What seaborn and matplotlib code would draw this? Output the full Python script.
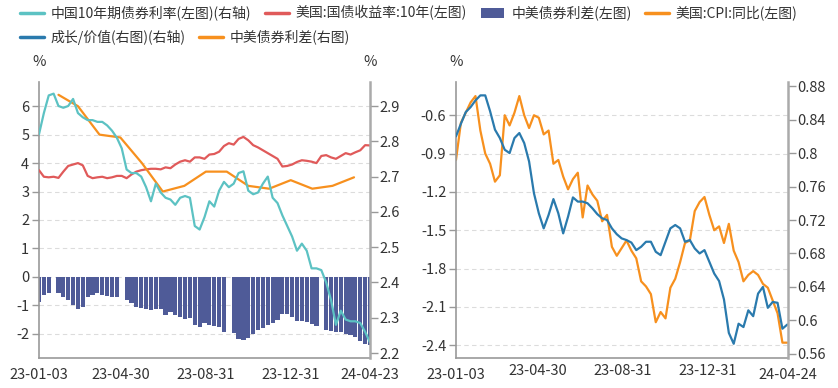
import numpy as np
import pandas as pd
import matplotlib
matplotlib.use("Agg")
import matplotlib.pyplot as plt
import matplotlib.dates as mdates
from matplotlib.lines import Line2D
from matplotlib.patches import Patch
import seaborn as sns

# weekly observations (Tuesdays) from 2023-01-03 to 2024-04-23
weeks = pd.date_range("2023-01-03", periods=69, freq="7D")

cn10y = [2.82, 2.88, 2.93, 2.935, 2.90, 2.895, 2.90, 2.92, 2.88, 2.868,
         2.86, 2.86, 2.855, 2.855, 2.845, 2.83, 2.81, 2.78, 2.72, 2.71,
         2.71, 2.70, 2.67, 2.63, 2.68, 2.655, 2.64, 2.635, 2.62, 2.64,
         2.645, 2.64, 2.56, 2.55, 2.585, 2.63, 2.615, 2.66, 2.685, 2.67,
         2.68, 2.71, 2.715, 2.66, 2.65, 2.655, 2.68, 2.70, 2.64, 2.625,
         2.59, 2.56, 2.53, 2.49, 2.51, 2.49, 2.44, 2.44, 2.435, 2.40,
         2.35, 2.28, 2.32, 2.295, 2.29, 2.29, 2.285, 2.26, 2.23]

us10y = [3.75, 3.52, 3.50, 3.52, 3.48, 3.70, 3.90, 3.95, 4.00, 3.92,
         3.55, 3.47, 3.50, 3.52, 3.47, 3.50, 3.55, 3.55, 3.47, 3.60,
         3.70, 3.75, 3.78, 3.80, 3.80, 3.78, 3.85, 3.82, 3.95, 4.05,
         4.10, 4.05, 4.20, 4.20, 4.15, 4.30, 4.32, 4.40, 4.60, 4.70,
         4.65, 4.85, 4.92, 4.80, 4.63, 4.55, 4.45, 4.35, 4.25, 4.15,
         3.88, 3.90, 3.95, 4.04, 4.10, 4.08, 4.05, 4.00, 4.25, 4.28,
         4.20, 4.15, 4.25, 4.35, 4.30, 4.38, 4.45, 4.63, 4.62]

# nan = holiday week, no bar
spread_bar = [-0.88, -0.63, -0.55, np.nan, -0.56, -0.70, -0.82, -0.98, -1.12, -1.05,
              -0.72, -0.62, -0.58, -0.62, -0.66, -0.70, -0.72, np.nan, -0.80, -0.92,
              -1.05, -1.08, -1.12, -1.17, -1.12, -1.12, -1.35, -1.22, -1.33, -1.40,
              -1.48, -1.45, -1.70, -1.75, -1.62, -1.70, -1.72, -1.76, -1.92, np.nan,
              -1.98, -2.18, -2.22, -2.15, -2.00, -1.88, -1.80, -1.68, -1.62, -1.52,
              -1.32, -1.30, -1.42, -1.55, -1.55, -1.60, -1.65, -1.72, np.nan, -1.88,
              -1.90, -1.92, -1.95, -2.00, -2.05, -2.12, -2.25, -2.35, -2.40]

cpi_dates = ["2023-01-31", "2023-02-28", "2023-03-31", "2023-04-30", "2023-05-31",
             "2023-06-30", "2023-07-31", "2023-08-31", "2023-09-30", "2023-10-31",
             "2023-11-30", "2023-12-31", "2024-01-31", "2024-02-29", "2024-03-31"]
us_cpi = [6.4, 6.0, 5.0, 4.9, 4.0, 3.0, 3.2, 3.7, 3.7, 3.2, 3.1, 3.4, 3.1, 3.2, 3.5]

spread_line = [-0.95, -0.66, -0.58, -0.50, -0.45, -0.72, -0.90, -0.98, -1.12, -1.07,
               -0.60, -0.68, -0.58, -0.45, -0.60, -0.70, -0.60, -0.62, -0.75, -0.72,
               -0.98, -0.95, -1.08, -1.18, -1.10, -1.05, -1.40, -1.15, -1.22, -1.27,
               -1.43, -1.38, -1.63, -1.70, -1.64, -1.58, -1.66, -1.72, -1.90, -1.94,
               -2.00, -2.22, -2.14, -2.19, -1.95, -1.88, -1.75, -1.60, -1.58, -1.35,
               -1.28, -1.24, -1.38, -1.50, -1.47, -1.60, -1.45, -1.66, -1.75, -1.90,
               -1.85, -1.82, -1.85, -1.92, -1.95, -2.05, -2.15, -2.38, -2.38]

growth_value = [0.820, 0.835, 0.849, 0.855, 0.863, 0.869, 0.869, 0.850, 0.828, 0.818,
                0.804, 0.800, 0.818, 0.824, 0.812, 0.790, 0.752, 0.728, 0.710, 0.726,
                0.745, 0.728, 0.704, 0.724, 0.747, 0.742, 0.742, 0.740, 0.734, 0.727,
                0.722, 0.720, 0.710, 0.703, 0.698, 0.696, 0.693, 0.684, 0.688, 0.694,
                0.694, 0.682, 0.678, 0.694, 0.710, 0.714, 0.710, 0.694, 0.696, 0.686,
                0.680, 0.684, 0.670, 0.656, 0.647, 0.625, 0.585, 0.572, 0.596, 0.592,
                0.612, 0.605, 0.632, 0.640, 0.615, 0.622, 0.621, 0.590, 0.595]

left_tick_dates = ["2023-01-03", "2023-02-28", "2023-04-30", "2023-06-30", "2023-08-31",
                   "2023-10-31", "2023-12-31", "2024-02-29", "2024-04-23"]
right_tick_dates = ["2023-01-03", "2023-02-28", "2023-04-30", "2023-06-30", "2023-08-31",
                    "2023-10-31", "2023-12-31", "2024-02-29", "2024-04-24"]

CYAN = "#5cc2c3"
RED = "#e05a5a"
NAVY = "#4f5b98"
ORANGE = "#f7901e"
BLUE = "#2a7aad"
TXT = "#333333"
SPINE = "#999999"

sns.set_style("white")
plt.rcParams["font.family"] = ["Noto Sans CJK SC", "DejaVu Sans"]
plt.rcParams["axes.unicode_minus"] = False


def to_num(dates):
    return mdates.date2num(pd.to_datetime(dates))


def style_panel(ax, axr, tick_dates, labelled_ticks, ylim, yticks, ylim_r, yticks_r, right_pct):
    tx = to_num(tick_dates)
    ax.set_xlim(tx[0], tx[-1])
    labels = [pd.Timestamp(d).strftime("%y-%m-%d") for d in tick_dates]
    if labelled_ticks:
        ax.set_xticks(tx)
        ax.set_xticklabels([lab if i % 2 == 0 else "" for i, lab in enumerate(labels)])
    else:
        major = [0, 1, 3, 5, 7, 8]
        ax.set_xticks(tx[major])
        ax.set_xticklabels([labels[i] if i in (0, 8) else "" for i in major])
        ax.set_xticks(tx[[2, 4, 6]], minor=True)
        ax.set_xticklabels([labels[i] for i in (2, 4, 6)], minor=True)
        ax.tick_params(axis="x", which="minor", length=0, labelsize=10.5,
                       labelcolor=TXT, pad=4)
    ax.tick_params(axis="x", which="major", direction="out", length=5, width=1,
                   color=SPINE, labelsize=10.5, labelcolor=TXT, pad=2)

    ax.set_ylim(*ylim)
    ax.set_yticks(yticks)
    ax.set_yticklabels([f"{v:g}" for v in yticks])
    ax.tick_params(axis="y", direction="out", length=5, width=1, color=SPINE,
                   labelsize=10.5, labelcolor=TXT, pad=2)
    axr.set_ylim(*ylim_r)
    axr.set_yticks(yticks_r)
    axr.set_yticklabels([f"{v:g}" for v in yticks_r])
    axr.tick_params(axis="y", direction="out", length=6, width=1, color=SPINE,
                    labelsize=10.5, labelcolor=TXT, pad=1)

    ax.yaxis.grid(True, linestyle=(0, (4, 3)), color="#dcdcdc", linewidth=0.8)
    ax.set_axisbelow(True)
    ax.set_xlabel("")
    ax.set_ylabel("")
    axr.set_ylabel("")

    for side in ["top", "right"]:
        ax.spines[side].set_visible(False)
    for side in ["top", "left", "bottom"]:
        axr.spines[side].set_visible(False)
    ax.spines["left"].set_color(SPINE)
    ax.spines["left"].set_linewidth(1.2)
    ax.spines["bottom"].set_color(SPINE)
    ax.spines["bottom"].set_linewidth(1.2)
    axr.spines["right"].set_color("#aaaaaa")
    axr.spines["right"].set_linewidth(1.8)

    ax.text(0, 1.072, "%", transform=ax.transAxes, ha="center", va="center",
            fontsize=10.5, color=TXT)
    if right_pct:
        ax.text(1, 1.072, "%", transform=ax.transAxes, ha="center", va="center",
                fontsize=10.5, color=TXT)


fig = plt.figure(figsize=(8.38, 3.88), dpi=100)
ax1 = fig.add_axes([39 / 838, 30 / 388, 331 / 838, 276 / 388])
ax1r = ax1.twinx()
ax2 = fig.add_axes([456 / 838, 30 / 388, 332 / 838, 276 / 388])
ax2r = ax2.twinx()

x = to_num(weeks)
bars = np.array(spread_bar)
mask = ~np.isnan(bars)

# left panel
ax1.bar(x[mask], bars[mask], width=6, color=NAVY, linewidth=0, zorder=1)
sns.lineplot(x=x, y=us10y, ax=ax1, color=RED, linewidth=1.6, zorder=3)
sns.lineplot(x=to_num(cpi_dates), y=us_cpi, ax=ax1, color=ORANGE, linewidth=1.6, zorder=4)
sns.lineplot(x=x, y=cn10y, ax=ax1r, color=CYAN, linewidth=1.6)

style_panel(ax1, ax1r, left_tick_dates, True,
            (-2.85, 6.85), list(range(-2, 7)),
            (2.186, 2.968), [2.2, 2.3, 2.4, 2.5, 2.6, 2.7, 2.8, 2.9], True)

# right panel
sns.lineplot(x=x, y=spread_line, ax=ax2, color=ORANGE, linewidth=1.6)
sns.lineplot(x=x, y=growth_value, ax=ax2r, color=BLUE, linewidth=1.6)

style_panel(ax2, ax2r, right_tick_dates, False,
            (-2.50, -0.34), [-2.4, -2.1, -1.8, -1.5, -1.2, -0.9, -0.6],
            (0.555, 0.885), [0.56, 0.60, 0.64, 0.68, 0.72, 0.76, 0.80, 0.84, 0.88], False)

row1 = [Line2D([], [], color=CYAN, lw=2.5), Line2D([], [], color=RED, lw=2.5),
        Patch(facecolor=NAVY, edgecolor="none"), Line2D([], [], color=ORANGE, lw=2.5)]
row1_labels = ["中国10年期债券利率(左图)(右轴)", "美国:国债收益率:10年(左图)",
               "中美债券利差(左图)", "美国:CPI:同比(左图)"]
row2 = [Line2D([], [], color=BLUE, lw=2.5), Line2D([], [], color=ORANGE, lw=2.5)]
row2_labels = ["成长/价值(右图)(右轴)", "中美债券利差(右图)"]

for handles, labels, ypx in [(row1, row1_labels, 13), (row2, row2_labels, 37)]:
    leg = fig.legend(handles, labels, loc="center left",
                     bbox_to_anchor=(20 / 838, 1 - ypx / 388), ncol=len(handles),
                     frameon=False, fontsize=10, handlelength=1.7, handletextpad=0.5,
                     columnspacing=1.0, borderaxespad=0, borderpad=0)
    for t in leg.get_texts():
        t.set_color(TXT)

fig.savefig("out.png", dpi=100)
